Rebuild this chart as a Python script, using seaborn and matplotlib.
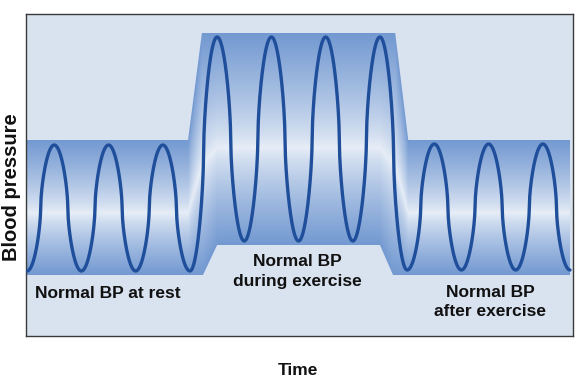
import numpy as np
import pandas as pd
import matplotlib
matplotlib.use("Agg")
import matplotlib.pyplot as plt
from matplotlib.patches import Polygon
import seaborn as sns

# ---- data (time in cardiac cycles, pressure in arbitrary units) ----
ext_time = [0, 0.5, 1, 1.5, 2, 2.5, 3, 3.5, 4, 4.5, 5, 5.5, 6, 6.5, 7, 7.5, 8, 8.5, 9, 9.5, 10]
ext_bp = [65, 191, 65, 191, 65, 191, 65, 299, 95, 299, 95, 299, 95, 299, 66, 192, 66, 192, 66, 192, 66]

band_top_t = [-0.02, 2.965, 3.22, 6.78, 7.02, 10.0]
band_top_bp = [196, 196, 303, 303, 196, 196]
band_bot_t = [-0.02, 3.24, 3.50, 6.50, 6.74, 10.0]
band_bot_bp = [61, 61, 91, 91, 61, 61]

labels = ["Normal BP at rest", "Normal BP\nduring exercise", "Normal BP\nafter exercise"]
label_t = [0.15, 4.97, 8.53]
label_bp = [43, 64.5, 34]

# ---- build smooth wave between extremes (rounded, loop-like half-cycles) ----
xs, ys = [], []
for i in range(len(ext_time) - 1):
    u = np.linspace(0, 1, 120, endpoint=False)
    a, b = ext_bp[i], ext_bp[i + 1]
    c = np.cos(np.pi * u)
    shape = (1 - np.sign(c) * np.abs(c) ** 0.6) / 2
    xs.append(ext_time[i] + (ext_time[i + 1] - ext_time[i]) * u)
    ys.append(a + (b - a) * shape)
xs.append(np.array([ext_time[-1]]))
ys.append(np.array([ext_bp[-1]]))
wave = pd.DataFrame({"time": np.concatenate(xs), "bp": np.concatenate(ys)})

sns.set_theme(style="white")
plt.rcParams["font.family"] = ["Liberation Sans", "DejaVu Sans"]

fig = plt.figure(figsize=(5.78, 3.85), dpi=100)
ax = fig.add_axes([26 / 578, 49 / 385, 547 / 578, 322 / 385])
ax.set_facecolor("#d9e2ef")
xmin, xmax, ymin, ymax = -0.02, 10.055, 0, 322
ax.set_xlim(xmin, xmax)
ax.set_ylim(ymin, ymax)

# band polygon
poly_pts = list(zip(band_top_t, band_top_bp)) + list(zip(band_bot_t[::-1], band_bot_bp[::-1]))
poly = Polygon(poly_pts, closed=True, facecolor="none", edgecolor="none", transform=ax.transData)
ax.add_patch(poly)

# gradient fill within the band
nx, ny = 700, 450
gx = np.linspace(xmin, xmax, nx)
gy = np.linspace(ymin, ymax, ny)
GX, GY = np.meshgrid(gx, gy)
top = np.interp(GX, band_top_t, band_top_bp)
bot = np.interp(GX, band_bot_t, band_bot_bp)
s = np.clip((GY - bot) / (top - bot), 0, 1)
d = np.where(s < 0.46, (0.46 - s) / 0.46, (s - 0.46) / 0.54)
f = 1 - np.clip(d, 0, 1) ** 0.8
dark = np.array([0.45, 0.60, 0.82])
light = np.array([0.91, 0.935, 0.97])
img = dark[None, None, :] * (1 - f[..., None]) + light[None, None, :] * f[..., None]
im = ax.imshow(img, extent=[xmin, xmax, ymin, ymax], origin="lower", aspect="auto",
               interpolation="bilinear", zorder=1)
im.set_clip_path(poly)

# pressure wave
sns.lineplot(data=wave, x="time", y="bp", sort=False, estimator=None, ax=ax,
             color="#1f4e9b", linewidth=2.4, zorder=3)
ax.lines[-1].set_solid_joinstyle("round")

# annotations
ax.text(label_t[0], label_bp[0], labels[0], ha="left", va="center",
        fontsize=12.5, fontweight="bold", color="#111111", zorder=4)
for t, bp, lab in zip(label_t[1:], label_bp[1:], labels[1:]):
    ax.text(t, bp, lab, ha="center", va="center", fontsize=12.5, fontweight="bold",
            color="#111111", linespacing=1.35, zorder=4)

ax.set_xticks([])
ax.set_yticks([])
ax.set_xlabel("Time", fontsize=12.5, fontweight="bold", color="#111111", va="center")
ax.xaxis.set_label_coords(0.497, -0.106)
ax.set_ylabel("Blood pressure", fontsize=14.5, fontweight="bold", color="#111111", va="center")
ax.yaxis.set_label_coords(-0.027, 0.463)

for sp in ax.spines.values():
    sp.set_visible(True)
    sp.set_color("#3a3a3a")
    sp.set_linewidth(1.0)

fig.savefig("out.png", dpi=100, facecolor="white")
